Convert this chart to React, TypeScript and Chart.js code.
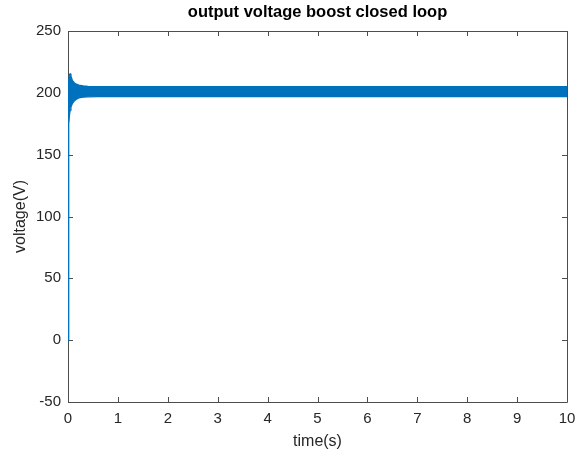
import React, { useEffect, useRef } from "react";
import { Chart, registerables } from "chart.js";

Chart.register(...registerables);

// Envelope of the (dense ripple) output voltage
const timeS = [0, 0.005, 0.01, 0.02, 0.03, 0.045, 0.06, 0.08, 0.1, 0.13, 0.17, 0.22, 0.3, 0.4, 0.6, 1, 2, 3, 4, 5, 6, 7, 8, 9, 10];
const upperV = [0, 130, 195, 210, 215, 215.5, 213.5, 211, 209.5, 208, 207, 206.3, 205.7, 205.3, 205, 205, 205, 205, 205, 205, 205, 205, 205, 205, 205];
const lowerV = [0, 60, 150, 175, 182, 186, 188.5, 190.5, 192, 193.5, 194.8, 195.8, 196.5, 196.8, 197, 197, 197, 197, 197, 197, 197, 197, 197, 197, 197];

const xTicks = [0, 1, 2, 3, 4, 5, 6, 7, 8, 9, 10];
const yTicks = [-50, 0, 50, 100, 150, 200, 250];

const titleText = "output voltage boost closed loop";
const xLabel = "time(s)";
const yLabel = "voltage(V)";

const FONT = "'Liberation Sans', Arial, Helvetica, sans-serif";
const TEXT = "#262626";
const AXIS = "#4d4d4d";
const BLUE = "#0072BD";

const boxPlugin = {
  id: "matlabBox",
  beforeDatasetsDraw(chart: any) {
    const { ctx, chartArea } = chart;
    const xs = chart.scales.x;
    const ys = chart.scales.y;
    const { left, right, top, bottom } = chartArea;
    ctx.save();
    ctx.strokeStyle = AXIS;
    ctx.lineWidth = 1;
    ctx.beginPath();
    ctx.rect(Math.round(left) + 0.5, Math.round(top) + 0.5, Math.round(right - left), Math.round(bottom - top));
    ctx.stroke();
    const len = 5;
    ctx.beginPath();
    xTicks.forEach((v) => {
      const px = Math.round(xs.getPixelForValue(v)) + 0.5;
      ctx.moveTo(px, bottom);
      ctx.lineTo(px, bottom - len);
      ctx.moveTo(px, top);
      ctx.lineTo(px, top + len);
    });
    yTicks.forEach((v) => {
      const py = Math.round(ys.getPixelForValue(v)) + 0.5;
      ctx.moveTo(left, py);
      ctx.lineTo(left + len, py);
      ctx.moveTo(right, py);
      ctx.lineTo(right - len, py);
    });
    ctx.stroke();
    ctx.restore();
  },
  afterDraw(chart: any) {
    const { ctx, chartArea } = chart;
    const { left, right } = chartArea;
    ctx.save();
    // title centred over the plot area (MATLAB style)
    ctx.fillStyle = "#000";
    ctx.font = `bold 16.5px ${FONT}`;
    ctx.textAlign = "center";
    ctx.textBaseline = "middle";
    ctx.fillText(titleText, (left + right) / 2, 12);
    ctx.restore();
  },
};

export default function App() {
  const ref = useRef<HTMLCanvasElement | null>(null);
  useEffect(() => {
    document.body.style.margin = "0";
    if (!ref.current) return;
    const chart = new Chart(ref.current, {
      type: "line",
      data: {
        datasets: [
          {
            label: "upper",
            data: timeS.map((t, i) => ({ x: t, y: upperV[i] })),
            borderColor: BLUE,
            backgroundColor: BLUE,
            borderWidth: 1.2,
            pointRadius: 0,
            fill: "+1",
            tension: 0,
          },
          {
            label: "lower",
            data: timeS.map((t, i) => ({ x: t, y: lowerV[i] })),
            borderColor: BLUE,
            backgroundColor: BLUE,
            borderWidth: 1.2,
            pointRadius: 0,
            fill: false,
            tension: 0,
          },
        ],
      },
      options: {
        animation: false,
        responsive: false,
        maintainAspectRatio: false,
        layout: { padding: { left: 0, right: 0, top: 31, bottom: 0 } },
        plugins: {
          legend: { display: false },
          tooltip: { enabled: false },
          title: { display: false },
        },
        scales: {
          x: {
            type: "linear",
            min: 0,
            max: 10,
            afterBuildTicks: (s: any) => {
              s.ticks = xTicks.map((v) => ({ value: v }));
            },
            afterFit: (s: any) => {
              s.height = 49;
              s.paddingRight = 9;
              s.paddingLeft = 0;
            },
            grid: { display: false, drawTicks: false },
            border: { display: false },
            ticks: {
              color: TEXT,
              font: { family: FONT, size: 15 },
              padding: 8,
              maxRotation: 0,
              autoSkip: false,
            },
            title: {
              display: true,
              text: xLabel,
              color: TEXT,
              font: { family: FONT, size: 16 },
              padding: { top: 0, bottom: 0 },
            },
          },
          y: {
            type: "linear",
            min: -50,
            max: 250,
            afterBuildTicks: (s: any) => {
              s.ticks = yTicks.map((v) => ({ value: v }));
            },
            afterFit: (s: any) => {
              s.width = 68;
              s.paddingTop = 0;
              s.paddingBottom = 0;
            },
            grid: { display: false, drawTicks: false },
            border: { display: false },
            ticks: {
              color: TEXT,
              font: { family: FONT, size: 15 },
              padding: 7,
              autoSkip: false,
            },
            title: {
              display: true,
              text: yLabel,
              color: TEXT,
              font: { family: FONT, size: 16 },
              padding: { top: 11, bottom: 0 },
            },
          },
        },
      },
      plugins: [boxPlugin],
    });
    return () => chart.destroy();
  }, []);
  return (
    <div style={{ width: 576, height: 451, background: "#fff" }}>
      <canvas ref={ref} width={576} height={451} style={{ width: 576, height: 451, display: "block" }} />
    </div>
  );
}
